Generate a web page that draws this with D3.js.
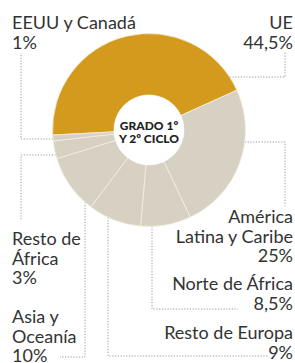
<!DOCTYPE html>
<html>
<head>
<meta charset="utf-8">
<script src="https://cdn.jsdelivr.net/npm/d3@7"></script>
<style>
	body { margin: 0; background: #fff; }
	svg { display: block; }
	text { font-family: Lato, "Open Sans", sans-serif; fill: #333; }
</style>
</head>
<body>
<script>
// origen de los estudiantes (%)
const regions = ["UE", "América Latina y Caribe", "Norte de África", "Resto de Europa", "Asia y Oceanía", "Resto de África", "EEUU y Canadá"];
const shares = [44.5, 25, 8.5, 9, 10, 3, 1];
const shareLabels = ["44,5%", "25%", "8,5%", "9%", "10%", "3%", "1%"];
const nameLines = [["UE"], ["América", "Latina y Caribe"], ["Norte de África"], ["Resto de Europa"], ["Asia y", "Oceanía"], ["Resto de", "África"], ["EEUU y Canadá"]];
const centerLines = ["GRADO 1º", "Y 2º CICLO"];

const width = 295, height = 363;
const cx = 149, cy = 130, outer = 96.5, inner = 35;

// where each label sits and how its dotted leader runs
const layout = [
	{ x: 293, y: 29, anchor: "end", leg: "h", at: 77, side: 1, path: [[285, 77], [285, 52]] },
	{ x: 293, y: 223, anchor: "end", leg: "h", at: 142, side: 1, path: [[285, 142], [285, 206]] },
	{ x: 293, y: 290, anchor: "end", leg: "v", at: 152, path: [[152, 309], [238, 309]] },
	{ x: 293, y: 339, anchor: "end", leg: "v", at: 108, path: [[108, 356], [268, 356]] },
	{ x: 12, y: 323, anchor: "start", leg: "v", at: 85, path: [[85, 357], [60, 357]] },
	{ x: 12, y: 245, anchor: "start", leg: "h", at: 155, side: -1, path: [[21, 155], [21, 221]] },
	{ x: 12, y: 29, anchor: "start", leg: "h", at: 139, side: -1, path: [[21, 139], [21, 53]] }
];

const color = d3.scaleOrdinal()
	.domain(regions)
	.range(["#d49a1e", "#d6d1c2", "#d6d1c2", "#d6d1c2", "#d6d1c2", "#d6d1c2", "#d6d1c2"]);

const pie = d3.pie()
	.sort(null)
	.startAngle(-93 * Math.PI / 180)
	.endAngle(267 * Math.PI / 180);

const arc = d3.arc().innerRadius(inner).outerRadius(outer);

const svg = d3.select("body").append("svg")
	.attr("width", width)
	.attr("height", height);

// leaders first, under the donut
const leaders = svg.append("g")
	.attr("fill", "none")
	.attr("stroke", "#999")
	.attr("stroke-width", 1)
	.attr("stroke-dasharray", "1.2,1.6");

layout.forEach(l => {
	let start;
	if (l.leg === "h") {
		let dy = l.at - cy;
		start = [cx + l.side * Math.sqrt(outer * outer - dy * dy), l.at];
	} else {
		let dx = l.at - cx;
		start = [l.at, cy + Math.sqrt(outer * outer - dx * dx)];
	}
	leaders.append("path")
		.attr("d", d3.line()([start, ...l.path]));
});

const g = svg.append("g")
	.attr("transform", `translate(${cx}, ${cy})`);

g.selectAll("path")
	.data(pie(shares))
	.enter()
	.append("path")
		.attr("d", arc)
		.attr("fill", (d, i) => color(regions[i]))
		.attr("stroke", "#f4efe0")
		.attr("stroke-width", 0.8);

g.append("circle")
	.attr("r", inner)
	.attr("fill", "#fff");

g.append("text")
	.attr("text-anchor", "middle")
	.style("font-weight", 900)
	.style("font-size", "12px")
	.style("fill", "#222")
	.selectAll("tspan")
	.data(centerLines)
	.enter()
	.append("tspan")
		.attr("x", 0)
		.attr("y", (d, i) => i * 13.5 - 0.5)
		.text(d => d);

// labels
const labels = svg.append("g")
	.style("font-size", "18px");

layout.forEach((l, i) => {
	let t = labels.append("text")
		.attr("text-anchor", l.anchor);
	let lines = nameLines[i].concat(shareLabels[i]);
	t.selectAll("tspan")
		.data(lines)
		.enter()
		.append("tspan")
			.attr("x", l.x)
			.attr("y", (d, k) => l.y + k * 19.5)
			.text(d => d);
});
</script>
</body>
</html>
